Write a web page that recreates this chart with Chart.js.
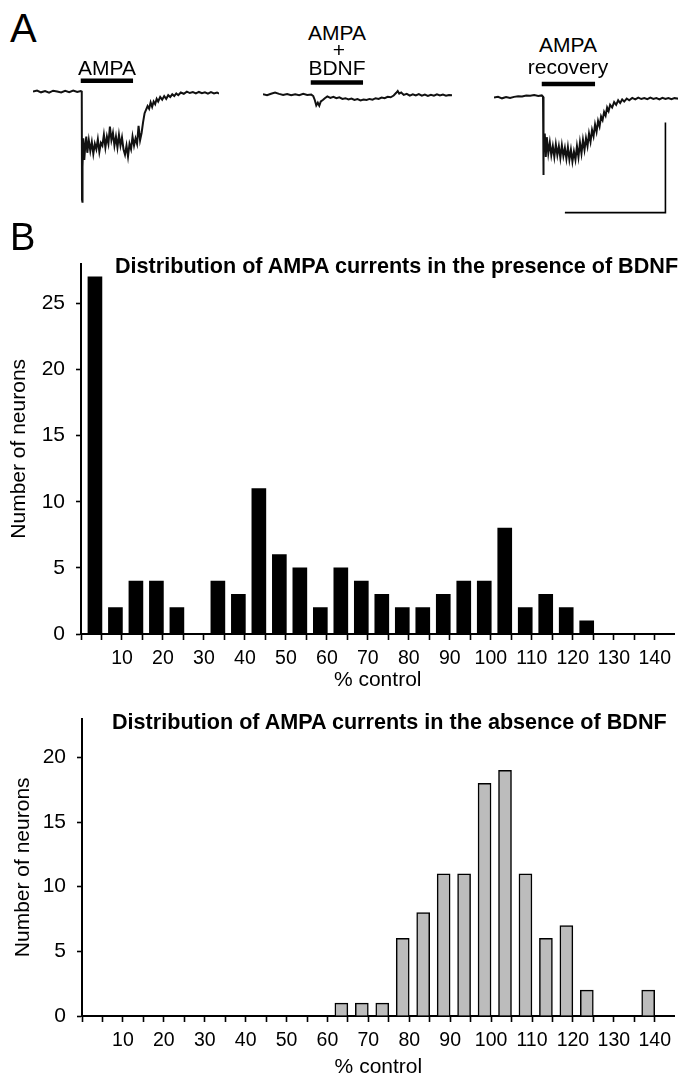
<!DOCTYPE html>
<html><head><meta charset="utf-8">
<script src="https://cdn.jsdelivr.net/npm/chart.js@4.4.1/dist/chart.umd.min.js"></script>
<style>
html,body{margin:0;padding:0;background:#fff;overflow:hidden;width:678px;height:1075px;}
#page{position:relative;width:678px;height:1075px;overflow:hidden;background:#fff;}
canvas{position:absolute;}
.t{position:absolute;font-family:'Liberation Sans',Arial,Helvetica,sans-serif;line-height:1;white-space:nowrap;color:#000;z-index:5;}
.c{transform:translateX(-50%);}
.b{font-weight:bold;}
</style></head><body><div id="page">
<canvas id="tr1"></canvas><canvas id="tr2"></canvas><canvas id="tr3"></canvas>
<canvas id="h1"></canvas><canvas id="h2"></canvas>
<div class="t" style="left:10px;top:8px;font-size:40px;">A</div>
<div class="t c" style="left:107px;top:57px;font-size:21px;">AMPA</div>
<div class="t c" style="left:337px;top:22px;font-size:21px;">AMPA</div>
<div class="t c" style="left:339px;top:39px;font-size:21px;">+</div>
<div class="t c" style="left:337px;top:57px;font-size:21px;">BDNF</div>
<div class="t c" style="left:568px;top:34px;font-size:21px;">AMPA</div>
<div class="t c" style="left:568px;top:56px;font-size:21px;">recovery</div>
<div class="t" style="left:10px;top:218px;font-size:38px;">B</div>
<div class="t b" style="left:115px;top:255px;font-size:21.6px;">Distribution of AMPA currents in the presence of BDNF</div>
<div class="t b" style="left:112px;top:711px;font-size:21.6px;">Distribution of AMPA currents in the absence of BDNF</div>
</div>
<script>
// ---------- DATA ----------
// Histogram bins (% control, lower edge of each 5% bin)
const binStarts = [0,5,10,15,20,25,30,35,40,45,50,55,60,65,70,75,80,85,90,95,100,105,110,115,120,125,130,135];
const countsWithBDNF    = [27,2,4,4,2,0,4,3,11,6,5,2,5,4,3,2,2,3,4,4,8,2,3,2,1,0,0,0];
const countsWithoutBDNF = [0,0,0,0,0,0,0,0,0,0,0,0,1,1,1,6,8,11,11,18,19,11,6,7,2,0,0,2];
const xTickValues = [0,5,10,15,20,25,30,35,40,45,50,55,60,65,70,75,80,85,90,95,100,105,110,115,120,125,130,135,140];
const xTickLabels = ['10','20','30','40','50','60','70','80','90','100','110','120','130','140'];
const yTicksTop = [0,5,10,15,20,25];
const yTicksBottom = [0,5,10,15,20];

// Panel A traces: [time (s), current (pA)]
const traceAMPA = [[0,0],[0.8,6],[1.6,-4],[2.4,3],[3.2,-6],[4.0,5],[4.8,0],[5.6,-5],[6.4,4],[7.2,-3],[8.0,6],[8.8,-2],[9.5,3],[9.7,0],
[9.75,-600],[9.8,-617],[9.9,-420],[10.0,-260],[10.2,-380],[10.4,-300],[10.6,-250],[10.8,-340],[11.1,-270],[11.4,-330],[11.7,-280],[12.0,-345],[12.3,-290],[12.6,-320],[12.9,-265],[13.2,-335],[13.5,-285],[13.8,-300],[14.1,-240],[14.4,-310],[14.7,-250],[15.0,-290],[15.3,-195],[15.6,-270],[15.9,-230],[16.2,-300],[16.5,-250],[16.8,-310],[17.1,-240],[17.4,-300],[17.7,-255],[18.0,-320],[18.3,-350],[18.6,-300],[18.9,-360],[19.2,-290],[19.5,-320],[19.8,-250],[20.1,-300],[20.4,-260],[20.7,-290],[21.0,-190],[21.3,-270],[21.6,-230],[21.9,-170],[22.2,-120],[22.5,-100],[22.8,-80],[23.1,-95],[23.4,-60],[23.7,-85],[24.0,-55],[24.3,-70],[24.6,-40],[24.9,-55],[25.3,-30],[25.7,-45],[26.1,-25],[26.5,-40],[26.9,-20],[27.3,-30],[27.7,-15],[28.1,-25],[28.5,-10],[28.9,-20],[29.4,-5],[30.0,-12],[30.6,0],[31.2,-8],[31.8,-3],[32.4,-10],[33.0,-2],[33.6,-9],[34.2,-4],[34.8,-11],[35.4,-3],[36.0,-10],[36.6,-5],[37.0,-12]];
const traceAMPA_BDNF = [[0,2],[0.8,-3],[1.6,5],[2.4,12],[3.2,4],[4.0,-2],[4.8,3],[5.6,-4],[6.4,2],[7.2,-3],[8.0,4],[8.8,-2],[9.6,0],[10.0,-8],[10.3,-30],[10.6,-60],[10.9,-45],[11.2,-62],[11.5,-38],[11.9,-30],[12.3,-20],[12.8,-10],[13.4,-18],[14.0,-12],[14.6,-20],[15.2,-15],[15.8,-24],[16.4,-20],[17.0,-27],[17.6,-22],[18.2,-30],[18.8,-25],[19.4,-32],[20.0,-27],[20.6,-30],[21.2,-24],[21.8,-28],[22.4,-20],[23.0,-24],[23.6,-16],[24.2,-20],[24.8,-12],[25.4,-15],[26.0,-5],[26.5,10],[26.8,20],[27.1,5],[27.5,12],[28.0,-2],[28.6,4],[29.2,-6],[29.8,2],[30.4,-5],[31.0,3],[31.6,-6],[32.2,0],[32.8,-7],[33.4,-1],[34.0,-6],[34.6,2],[35.2,-5],[35.8,0],[36.4,-6],[37.0,-2],[37.6,-4]];
const traceRecovery = [[0,0],[0.8,5],[1.6,-4],[2.4,3],[3.2,-2],[4.0,4],[4.8,8],[5.6,6],[6.4,12],[7.2,10],[8.0,14],[8.8,9],[9.5,12],[9.75,5],[9.8,-430],[9.9,-300],[10.1,-200],[10.3,-330],[10.5,-220],[10.8,-310],[11.1,-250],[11.4,-320],[11.7,-270],[12.0,-330],[12.3,-260],[12.6,-320],[12.9,-270],[13.2,-335],[13.5,-265],[13.8,-325],[14.1,-280],[14.4,-340],[14.7,-275],[15.0,-345],[15.3,-290],[15.6,-355],[15.9,-300],[16.2,-345],[16.5,-270],[16.8,-330],[17.1,-250],[17.4,-310],[17.7,-235],[18.0,-290],[18.3,-225],[18.6,-270],[18.9,-200],[19.2,-245],[19.5,-180],[19.8,-215],[20.1,-150],[20.4,-190],[20.7,-130],[21.0,-160],[21.3,-105],[21.6,-125],[21.9,-80],[22.2,-100],[22.5,-55],[22.8,-75],[23.1,-40],[23.5,-55],[23.9,-25],[24.3,-40],[24.7,-15],[25.1,-30],[25.5,-10],[25.9,-22],[26.4,-5],[26.9,-15],[27.5,-2],[28.1,-10],[28.7,0],[29.3,-8],[29.9,-2],[30.5,-9],[31.1,0],[31.7,-7],[32.3,-3],[32.9,-10],[33.5,-1],[34.1,-8],[34.7,-2],[35.3,-9],[35.9,-3],[36.8,-6]];
// Drug application windows [start s, end s] and bar level (pA)
const appAMPA = [9.5, 19.9];
const appAMPA_BDNF = [9.5, 19.9];
const appRecovery = [9.5, 20.1];
const appLevels = [60, 67, 75];
// Scale bar: 20 s, 500 pA
const scaleBarTime = [14.1, 34.1];
const scaleBarCurrent = [-639, -139];

// ---------- RENDER ----------
const FONT = "'Liberation Sans', Arial, Helvetica, sans-serif";
const PX_PER_S = 5.03, PX_PER_PA = 0.18, Y_MIN = -680, Y_MAX = 120;

function traceChart(id, left, baseY, pts, xMax, app, level, scaleBar) {
  const cv = document.getElementById(id);
  const w = Math.round(xMax * PX_PER_S), h = Math.round((Y_MAX - Y_MIN) * PX_PER_PA);
  cv.width = w; cv.height = h;
  cv.style.left = left + 'px';
  cv.style.top = Math.round(baseY - Y_MAX * PX_PER_PA) + 'px';
  const ds = [
    {data: pts.map(p => ({x: p[0], y: p[1]})), borderColor: '#111', borderWidth: 2, pointRadius: 0, tension: 0, clip: false},
    {data: [{x: app[0], y: level}, {x: app[1], y: level}], borderColor: '#000', borderWidth: 4.5, pointRadius: 0, borderCapStyle: 'butt', clip: false}
  ];
  if (scaleBar) {
    ds.push({data: [{x: scaleBar[0][0], y: scaleBar[1][0]}, {x: scaleBar[0][1], y: scaleBar[1][0]}, {x: scaleBar[0][1], y: scaleBar[1][1]}],
      borderColor: '#000', borderWidth: 1.6, pointRadius: 0, clip: false});
  }
  new Chart(cv, {
    type: 'line',
    data: {datasets: ds},
    options: {
      responsive: false, animation: false, devicePixelRatio: 1,
      layout: {padding: 0},
      plugins: {legend: {display: false}, tooltip: {enabled: false}},
      scales: {
        x: {type: 'linear', display: false, min: 0, max: xMax},
        y: {type: 'linear', display: false, min: Y_MIN, max: Y_MAX}
      }
    }
  });
}
traceChart('tr1', 33, 92, traceAMPA, 37, appAMPA, appLevels[0], null);
traceChart('tr2', 263, 95, traceAMPA_BDNF, 37.6, appAMPA_BDNF, appLevels[1], null);
traceChart('tr3', 494, 98, traceRecovery, 36.8, appRecovery, appLevels[2], [scaleBarTime, scaleBarCurrent]);

const BAR_SHIFT = 3.4;
function histogram(id, top, height, padTop, yAxisW, xAxisH, counts, yMax, yTicks, xMax, fill, border, thick, xTitlePad, yTitlePad) {
  const cv = document.getElementById(id);
  cv.width = 678; cv.height = height;
  cv.style.left = '0px'; cv.style.top = top + 'px';
  new Chart(cv, {
    type: 'bar',
    data: {datasets: [{
      data: binStarts.map((b, i) => ({x: b + BAR_SHIFT, y: counts[i]})),
      backgroundColor: fill, borderColor: '#000', borderWidth: border, borderSkipped: 'bottom',
      barThickness: thick, grouped: false
    }]},
    options: {
      responsive: false, animation: false, devicePixelRatio: 1,
      layout: {padding: {top: padTop, right: 0, bottom: 0, left: 0}},
      plugins: {legend: {display: false}, tooltip: {enabled: false}, title: {display: false}},
      scales: {
        x: {
          type: 'linear', min: 0, max: xMax, offset: false,
          afterBuildTicks: s => { s.ticks = xTickValues.map(v => ({value: v})); },
          afterFit: s => { s.height = xAxisH; },
          ticks: {autoSkip: false, maxRotation: 0, minRotation: 0, padding: 7, color: '#000',
            font: {family: FONT, size: 19.5},
            callback: v => xTickLabels.includes(String(v)) ? String(v) : ''},
          grid: {display: true, drawOnChartArea: false, drawTicks: true, tickLength: 6, tickWidth: 1.6, tickColor: '#000', offset: false},
          border: {display: true, color: '#000', width: 2},
          title: {display: true, text: '% control', color: '#000', font: {family: FONT, size: 21}, padding: {top: 0, bottom: xTitlePad}}
        },
        y: {
          type: 'linear', min: 0, max: yMax,
          afterBuildTicks: s => { s.ticks = yTicks.map(v => ({value: v})); },
          afterFit: s => { s.width = yAxisW; },
          ticks: {padding: 11, color: '#000', font: {family: FONT, size: 21}},
          grid: {display: true, drawOnChartArea: false, drawTicks: true, tickLength: 5, tickWidth: 1.6, tickColor: '#000'},
          border: {display: true, color: '#000', width: 2},
          title: {display: true, text: 'Number of neurons', color: '#000', font: {family: FONT, size: 21}, padding: {top: yTitlePad, bottom: 0}}
        }
      }
    }
  });
}
histogram('h1', 240, 455, 23, 81, 61, countsWithBDNF, 28, yTicksTop, 144.8, '#000', 0, 14, 1.9, 6.6);
histogram('h2', 695, 390, 18, 82, 69, countsWithoutBDNF, 23, yTicksBottom, 144.9, '#bcbcbc', 1.5, 13, 4.9, 10.8);
</script>
</body></html>
